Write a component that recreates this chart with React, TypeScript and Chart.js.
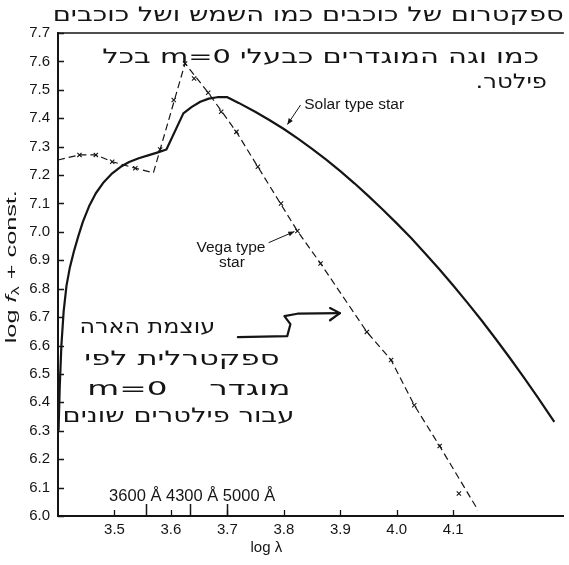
import React, { useEffect, useRef } from "react";
import { Chart, registerables } from "chart.js";

Chart.register(...registerables);

// ---------- data ----------
const xTicks = [3.5, 3.6, 3.7, 3.8, 3.9, 4.0, 4.1];
const yTicks = [6.0, 6.1, 6.2, 6.3, 6.4, 6.5, 6.6, 6.7, 6.8, 6.9, 7.0, 7.1, 7.2, 7.3, 7.4, 7.5, 7.6, 7.7];

const solarX = [3.401, 3.403, 3.406, 3.410, 3.415, 3.421, 3.428, 3.436, 3.444, 3.455, 3.467, 3.481, 3.496, 3.511, 3.526, 3.543, 3.561, 3.577, 3.592, 3.622, 3.637, 3.652, 3.667, 3.682, 3.700, 3.720, 3.750, 3.775, 3.800, 3.825, 3.850, 3.875, 3.900, 3.925, 3.950, 3.975, 4.000, 4.025, 4.050, 4.075, 4.100, 4.125, 4.150, 4.175, 4.200, 4.225, 4.250, 4.279];
const solarY = [6.30, 6.45, 6.60, 6.72, 6.81, 6.875, 6.93, 6.985, 7.035, 7.09, 7.136, 7.175, 7.206, 7.229, 7.246, 7.259, 7.270, 7.280, 7.290, 7.417, 7.440, 7.458, 7.469, 7.474, 7.474, 7.454, 7.422, 7.393, 7.362, 7.328, 7.292, 7.254, 7.214, 7.171, 7.126, 7.079, 7.030, 6.979, 6.925, 6.869, 6.811, 6.751, 6.689, 6.624, 6.557, 6.488, 6.417, 6.331];

const vegaX = [3.400, 3.438, 3.467, 3.496, 3.537, 3.569, 3.625, 3.666, 3.716, 3.754, 3.824, 3.865, 3.947, 3.990, 4.031, 4.076, 4.144];
const vegaY = [7.253, 7.271, 7.271, 7.247, 7.224, 7.208, 7.593, 7.490, 7.352, 7.229, 7.003, 6.889, 6.648, 6.549, 6.390, 6.246, 6.020];

const vegaMarkX = [3.438, 3.467, 3.496, 3.537, 3.581, 3.605, 3.625, 3.641, 3.666, 3.689, 3.716, 3.754, 3.795, 3.824, 3.865, 3.947, 3.990, 4.031, 4.076, 4.110];
const vegaMarkY = [7.271, 7.271, 7.247, 7.224, 7.290, 7.464, 7.593, 7.540, 7.490, 7.423, 7.352, 7.229, 7.100, 7.003, 6.889, 6.648, 6.549, 6.390, 6.246, 6.079];

const wavelengths = [3600, 4300, 5000];
const wavelengthLabel = "3600 Å 4300 Å 5000 Å";

const solarLabel = "Solar type star";
const vegaLabel1 = "Vega type";
const vegaLabel2 = "star";
const xTitle = "log λ";

const notes = [
  { text: "ספקטרום של כוכבים כמו השמש ושל כוכבים", x0: 3.3905, x1: 4.2958, y: 7.76 },
  { text: "כמו וגה המוגדרים כבעלי m=0 בכל", x0: 3.4782, x1: 4.2519, y: 7.612 },
  { text: "פילטר.", x0: 4.1396, x1: 4.266, y: 7.524 },
  { text: "עוצמת הארה", x0: 3.4379, x1: 3.6782, y: 6.661 },
  { text: "ספקטרלית לפי", x0: 3.4467, x1: 3.7923, y: 6.549 },
  { text: "מוגדר    m=0", x0: 3.452, x1: 3.8116, y: 6.443 },
  { text: "עבור פילטרים שונים", x0: 3.4081, x1: 3.8186, y: 6.348 },
];

// annotation anchors (data units)
const POS = {
  solarText: [3.836, 7.4465],
  solarLeader: [[3.8296, 7.4465], [3.8063, 7.378]],
  vegaText1: [3.7063, 6.943],
  vegaText2: [3.708, 6.89],
  vegaLeader: [[3.773, 6.962], [3.8186, 7.001]],
  handArrow: [[3.7186, 6.6296], [3.806, 6.633], [3.8116, 6.675], [3.801, 6.7035], [3.8239, 6.712], [3.8993, 6.714]],
  handArrowHead: [[3.8818, 6.732], [3.8993, 6.714], [3.8818, 6.689]],
  wlTop: 6.042,
  wlText: [3.4905, 6.07],
  xTitle: [3.769, 5.887],
  yTitleX: 3.3186,
  yTitleSpan: [6.608, 7.147],
};

const INK = "#151515";
const SANS = '"Liberation Sans", Arial, sans-serif';

function arrowHead(ctx: CanvasRenderingContext2D, x0: number, y0: number, x1: number, y1: number, len = 6, half = 2.5) {
  const a = Math.atan2(y1 - y0, x1 - x0);
  ctx.beginPath();
  ctx.moveTo(x1, y1);
  ctx.lineTo(x1 - len * Math.cos(a) + half * Math.sin(a), y1 - len * Math.sin(a) - half * Math.cos(a));
  ctx.lineTo(x1 - len * Math.cos(a) - half * Math.sin(a), y1 - len * Math.sin(a) + half * Math.cos(a));
  ctx.closePath();
  ctx.fill();
}

const overlayPlugin = {
  id: "overlay",
  afterDraw(chart: any) {
    const ctx: CanvasRenderingContext2D = chart.ctx;
    const xs = chart.scales.x;
    const ys = chart.scales.y;
    const X = (v: number) => xs.getPixelForValue(v);
    const Y = (v: number) => ys.getPixelForValue(v);
    const { left, right, top, bottom } = chart.chartArea;
    ctx.save();
    ctx.strokeStyle = INK;
    ctx.fillStyle = INK;
    ctx.lineCap = "butt";

    // top frame line
    ctx.lineWidth = 1.5;
    ctx.beginPath();
    ctx.moveTo(left, top);
    ctx.lineTo(right, top);
    ctx.stroke();

    // inward ticks
    ctx.lineWidth = 1.3;
    ctx.beginPath();
    yTicks.forEach((v) => {
      const y = Math.round(Y(v)) + 0.5;
      ctx.moveTo(left, y);
      ctx.lineTo(left + 6, y);
    });
    xTicks.forEach((v) => {
      const x = Math.round(X(v)) + 0.5;
      ctx.moveTo(x, bottom);
      ctx.lineTo(x, bottom - 6);
    });
    ctx.stroke();

    // wavelength markers
    ctx.lineWidth = 1.5;
    ctx.beginPath();
    wavelengths.forEach((w) => {
      const x = Math.round(X(Math.log10(w))) + 0.5;
      ctx.moveTo(x, bottom);
      ctx.lineTo(x, Y(POS.wlTop));
    });
    ctx.stroke();
    ctx.font = `16.5px ${SANS}`;
    ctx.textAlign = "left";
    ctx.textBaseline = "middle";
    ctx.fillText(wavelengthLabel, X(POS.wlText[0]), Y(POS.wlText[1]));

    // labels
    ctx.font = `15.5px ${SANS}`;
    ctx.textAlign = "left";
    ctx.fillText(solarLabel, X(POS.solarText[0]), Y(POS.solarText[1]));
    ctx.textAlign = "center";
    ctx.fillText(vegaLabel1, X(POS.vegaText1[0]), Y(POS.vegaText1[1]));
    ctx.fillText(vegaLabel2, X(POS.vegaText2[0]), Y(POS.vegaText2[1]));

    // leaders
    ctx.lineWidth = 1;
    [POS.solarLeader, POS.vegaLeader].forEach((seg) => {
      const x0 = X(seg[0][0]), y0 = Y(seg[0][1]), x1 = X(seg[1][0]), y1 = Y(seg[1][1]);
      ctx.beginPath();
      ctx.moveTo(x0, y0);
      ctx.lineTo(x1, y1);
      ctx.stroke();
      arrowHead(ctx, x0, y0, x1, y1);
    });

    // hand-drawn arrow
    ctx.lineWidth = 2.2;
    ctx.lineJoin = "round";
    ctx.lineCap = "round";
    ctx.beginPath();
    POS.handArrow.forEach((p, i) => {
      if (i === 0) ctx.moveTo(X(p[0]), Y(p[1]));
      else ctx.lineTo(X(p[0]), Y(p[1]));
    });
    ctx.stroke();
    ctx.beginPath();
    POS.handArrowHead.forEach((p, i) => {
      if (i === 0) ctx.moveTo(X(p[0]), Y(p[1]));
      else ctx.lineTo(X(p[0]), Y(p[1]));
    });
    ctx.stroke();

    // handwritten notes (Hebrew)
    ctx.direction = "rtl";
    ctx.textBaseline = "middle";
    ctx.textAlign = "right";
    ctx.font = `20px "DejaVu Sans", sans-serif`;
    notes.forEach((n) => {
      const target = X(n.x1) - X(n.x0);
      const w = ctx.measureText(n.text).width;
      ctx.save();
      ctx.translate(X(n.x1), Y(n.y));
      ctx.scale(target / w, 1);
      ctx.fillText(n.text, 0, 0);
      ctx.restore();
    });
    ctx.direction = "ltr";

    // x title
    ctx.font = `15px ${SANS}`;
    ctx.textAlign = "center";
    ctx.textBaseline = "middle";
    ctx.fillText(xTitle, X(POS.xTitle[0]), Y(POS.xTitle[1]));

    // y title: log f_λ + const.
    const parts: [string, string, number][] = [
      ["log ", `15px ${SANS}`, 0],
      ["f", `italic 15px ${SANS}`, 0],
      ["λ", `11px ${SANS}`, 4],
      [" + const.", `15px ${SANS}`, 0],
    ];
    let total = 0;
    const widths = parts.map((p) => {
      ctx.font = p[1];
      const w = ctx.measureText(p[0]).width;
      total += w;
      return w;
    });
    const span = Y(POS.yTitleSpan[0]) - Y(POS.yTitleSpan[1]);
    const cy = (Y(POS.yTitleSpan[0]) + Y(POS.yTitleSpan[1])) / 2;
    ctx.save();
    ctx.translate(X(POS.yTitleX), cy);
    ctx.rotate(-Math.PI / 2);
    ctx.scale(span / total, 1);
    ctx.textAlign = "left";
    let cx = -total / 2;
    parts.forEach((p, i) => {
      ctx.font = p[1];
      ctx.fillText(p[0], cx, p[2]);
      cx += widths[i];
    });
    ctx.restore();

    ctx.restore();
  },
};

export default function App() {
  const ref = useRef<HTMLCanvasElement | null>(null);

  useEffect(() => {
    if (!ref.current) return;
    const chart = new Chart(ref.current, {
      type: "line",
      data: {
        datasets: [
          {
            label: "Solar type star",
            data: solarX.map((x, i) => ({ x, y: solarY[i] })),
            borderColor: INK,
            borderWidth: 2.2,
            borderJoinStyle: "round",
            pointRadius: 0,
            tension: 0,
            fill: false,
          },
          {
            label: "Vega type star",
            data: vegaX.map((x, i) => ({ x, y: vegaY[i] })),
            borderColor: INK,
            borderWidth: 1.2,
            borderDash: [7, 4],
            pointRadius: 0,
            tension: 0,
            fill: false,
          },
          {
            label: "Vega points",
            data: vegaMarkX.map((x, i) => ({ x, y: vegaMarkY[i] })),
            showLine: false,
            pointStyle: "crossRot",
            pointRadius: 3,
            pointBorderWidth: 1.1,
            pointBorderColor: INK,
            borderColor: INK,
          },
        ],
      } as any,
      options: {
        responsive: false,
        devicePixelRatio: 1,
        animation: false,
        events: [],
        layout: { padding: { top: 33, left: 0, right: 0, bottom: 0 } },
        plugins: { legend: { display: false }, tooltip: { enabled: false } },
        scales: {
          x: {
            type: "linear",
            min: 3.4,
            max: 4.296,
            grid: { display: false, drawTicks: false },
            border: { display: true, color: INK, width: 2 },
            ticks: {
              color: INK,
              font: { family: SANS, size: 15 },
              padding: 5,
              autoSkip: false,
              maxRotation: 0,
              callback: (v: any) => Number(v).toFixed(1),
            },
            afterBuildTicks: (s: any) => {
              s.ticks = xTicks.map((v) => ({ value: v }));
            },
            afterFit: (s: any) => {
              s.height = 49;
            },
          },
          y: {
            type: "linear",
            min: 6.0,
            max: 7.7,
            grid: { display: false, drawTicks: false },
            border: { display: true, color: INK, width: 2 },
            ticks: {
              color: INK,
              font: { family: SANS, size: 15 },
              padding: 8,
              autoSkip: false,
              callback: (v: any) => Number(v).toFixed(1),
            },
            afterBuildTicks: (s: any) => {
              s.ticks = yTicks.map((v) => ({ value: v }));
            },
            afterFit: (s: any) => {
              s.width = 58;
            },
          },
        },
      } as any,
      plugins: [overlayPlugin],
    });
    return () => chart.destroy();
  }, []);

  return (
    <div style={{ position: "absolute", left: 0, top: 0, width: 569, height: 565, background: "#fff" }}>
      <canvas ref={ref} width={569} height={565} style={{ display: "block" }} />
    </div>
  );
}
